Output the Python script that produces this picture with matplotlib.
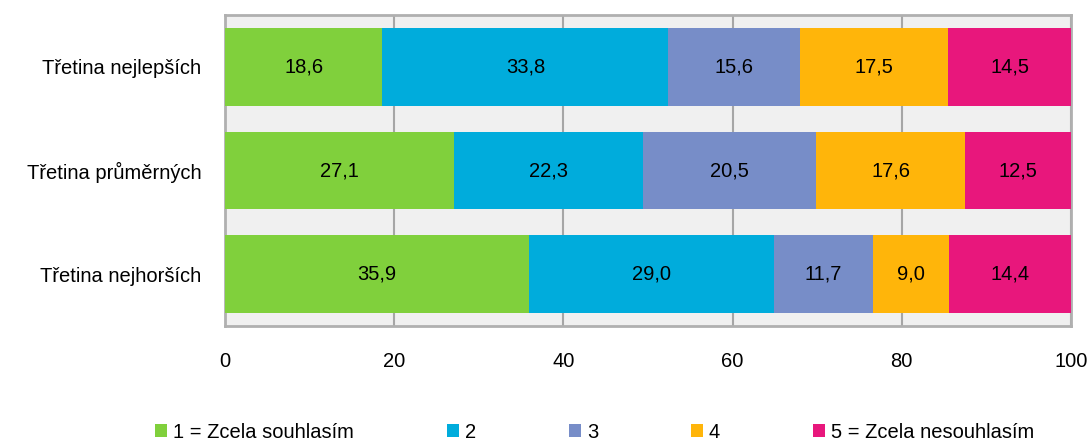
"""
Skládaný pruhový graf: názory podle třetin žáků
"""
import matplotlib
matplotlib.use('Agg')
import matplotlib.pyplot as plt
from matplotlib.patches import Patch

plt.rcParams['font.family'] = ['Liberation Sans', 'DejaVu Sans']

# data
categories = ['Třetina nejlepších', 'Třetina průměrných', 'Třetina nejhorších']
series_names = ['1 = Zcela souhlasím', '2', '3', '4', '5 = Zcela nesouhlasím']
values = [
    [18.6, 27.1, 35.9],   # 1
    [33.8, 22.3, 29.0],   # 2
    [15.6, 20.5, 11.7],   # 3
    [17.5, 17.6, 9.0],    # 4
    [14.5, 12.5, 14.4],   # 5
]
xticks = [0, 20, 40, 60, 80, 100]

colors = ['#80d03c', '#00acdc', '#778dc8', '#ffb50a', '#e8177c']
FS = 14.5

fig = plt.figure(figsize=(10.91, 4.44), dpi=100)
ax = fig.add_axes([225 / 1091, 1 - 326 / 444, 846 / 1091, 311 / 444])
ax.set_facecolor('#f0f0f0')

ypos = list(range(len(categories)))
left = [0.0] * len(categories)
for s, vals in enumerate(values):
    bars = ax.barh(ypos, vals, left=left, height=0.75, color=colors[s],
                   edgecolor='none', zorder=3)
    for b, v in zip(bars, vals):
        ax.text(b.get_x() + b.get_width() / 2, b.get_y() + b.get_height() / 2,
                f'{v:.1f}'.replace('.', ','), ha='center', va='center',
                fontsize=FS, color='black', zorder=4)
    left = [l + v for l, v in zip(left, vals)]

ax.set_xlim(0, 100)
ax.set_ylim(2.5, -0.5)
ax.set_yticks(ypos)
ax.set_yticklabels(categories, fontsize=FS)
ax.set_xticks(xticks)
ax.set_xticklabels([str(t) for t in xticks], fontsize=FS)
ax.tick_params(axis='both', length=0)
ax.tick_params(axis='x', pad=19)
ax.tick_params(axis='y', pad=17)
ax.grid(axis='x', color='#a6a6a6', linewidth=1.5, zorder=1)
for sp in ax.spines.values():
    sp.set_color('#b0b0b0')
    sp.set_linewidth(2)

handles = [Patch(facecolor=c, edgecolor='none') for c in colors]
fig.legend(handles, series_names, loc='center', bbox_to_anchor=(0.545, 0.027),
           ncol=5, frameon=False, fontsize=FS, handlelength=0.6, handleheight=0.6,
           handletextpad=0.3, columnspacing=4.6)

plt.savefig('out.png', dpi=100)
